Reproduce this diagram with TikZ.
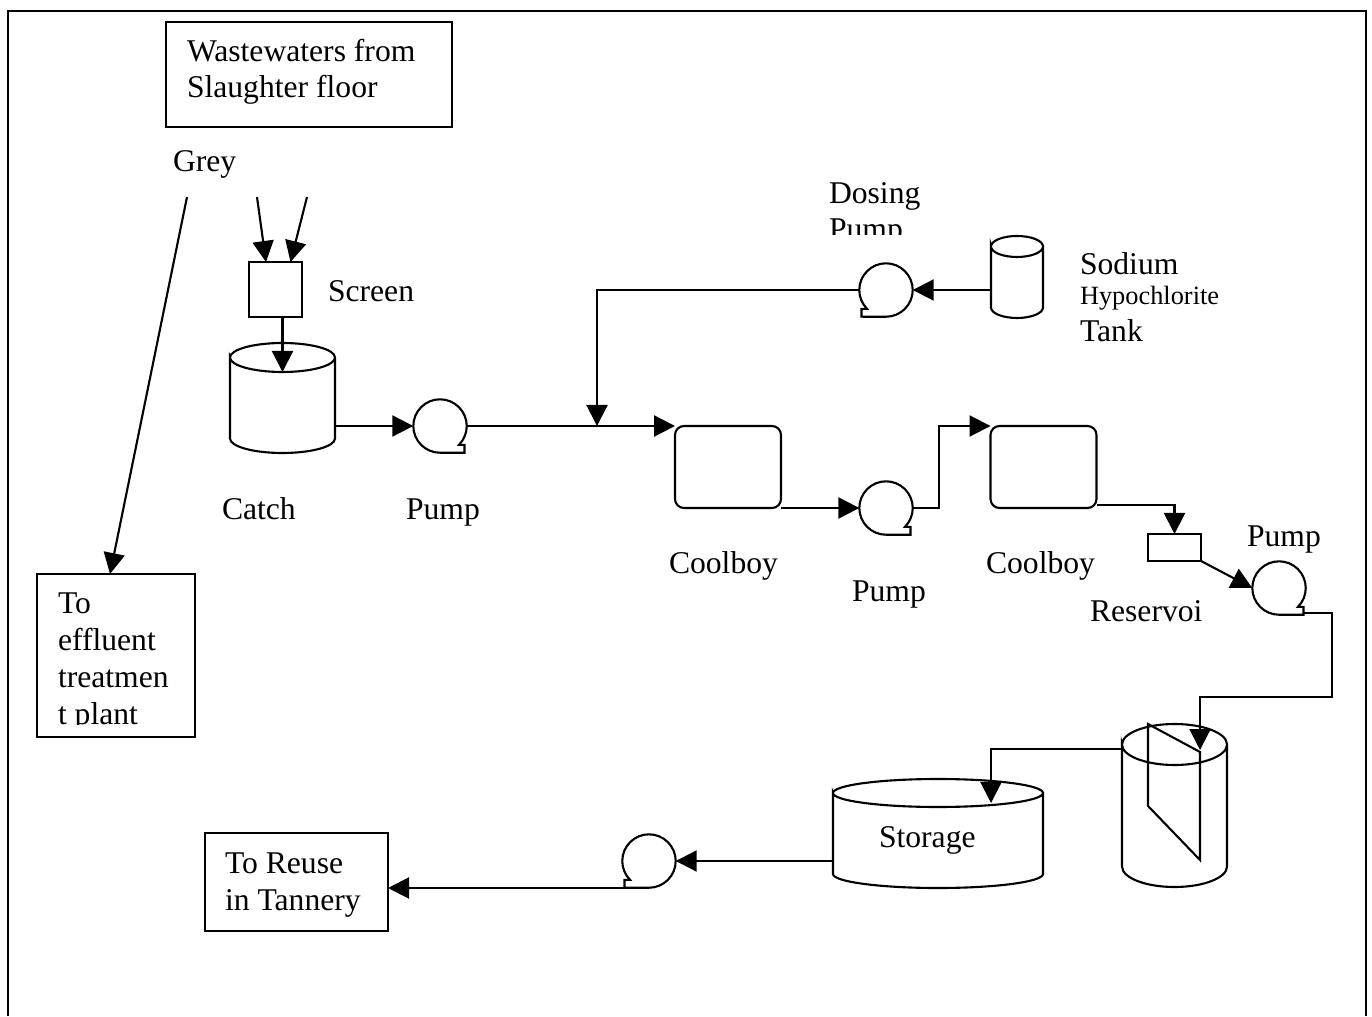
\documentclass[tikz,border=0pt]{standalone}
\usepackage{fontspec}
\setmainfont{Liberation Serif}
\usetikzlibrary{arrows.meta}
\tikzset{
  pipe/.style={line width=0.6pt},
  flow/.style={pipe,-{Triangle[length=2.1mm,width=2.1mm]}},
  box/.style={draw,line width=0.6pt,rectangle,inner sep=0pt,outer sep=0pt},
  cooler/.style={box,rounded corners=0.09cm,minimum width=1.06cm,minimum height=0.82cm},
  lbl/.style={inner sep=0pt,outer sep=0pt,anchor=base west,align=left,
    font=\fontsize{9}{10.52}\selectfont},
  smalllbl/.style={lbl,font=\fontsize{7.5}{9}\selectfont},
  hull/.style={inner sep=0pt,outer sep=0pt,rectangle},
  pumpbody/.style={inner sep=0pt,outer sep=0pt,circle,minimum size=0.534cm}
}
% name, x, y, side of the tail (1 right, -1 left)
\newcommand{\pumpat}[4]{%
  \node[pumpbody] (#1) at (#2,#3) {};
  \draw[pipe,shift={(#2,#3)},xscale=#4] (0.189,-0.189)
    arc[start angle=-45,end angle=270,radius=0.267]
    -- (0.245,-0.267) -- (0.245,-0.189) -- cycle;
}
% name, x, y, width, height, curve of the ends
\newcommand{\tankat}[6]{%
  \node[hull,minimum width=#4 cm,minimum height=#5 cm] (#1) at (#2,#3) {};
  \draw[pipe] ([yshift=-#6 cm]#1.north west)
    arc[start angle=180,end angle=-180,x radius=#4*0.5,y radius=#6]
    -- ([yshift=#6 cm]#1.south west)
    arc[start angle=180,end angle=360,x radius=#4*0.5,y radius=#6]
    -- ([yshift=-#6 cm]#1.north east);
}
\begin{document}
\begin{tikzpicture}
  \useasboundingbox (0,0) rectangle (13.72,10.16);
  % Outer frame, open at the bottom
  \draw[line width=0.75pt] (0.08,0) |- (13.66,10.05) -- (13.66,0);
  % Boxes
  \node[box,minimum width=2.86cm,minimum height=1.05cm] (waste) at (3.09,9.415) {};
  \node[box,minimum width=0.53cm,minimum height=0.55cm] (screen) at (2.755,7.265) {};
  \node[box,minimum width=1.58cm,minimum height=1.63cm] (effluent) at (1.16,3.605) {};
  \node[box,minimum width=1.83cm,minimum height=0.98cm] (reuse) at (2.965,1.34) {};
  \node[box,minimum width=0.53cm,minimum height=0.27cm] (reservoir) at (11.745,4.685) {};
  \node[cooler] (coolA) at (7.28,5.49) {};
  \node[cooler] (coolB) at (10.435,5.49) {};
  % Tanks
  \tankat{catch}{2.825}{6.18}{1.05}{1.10}{0.145}
  \tankat{hypo}{10.17}{7.39}{0.52}{0.82}{0.105}
  \tankat{filter}{11.745}{2.105}{1.05}{1.63}{0.205}
  \tankat{storage}{9.38}{1.825}{2.10}{1.09}{0.14}
  % Baffle inside the filter
  \draw[pipe] (11.48,2.92) -- (12.00,2.64) -- (12.00,1.56) -- (11.48,2.10) -- cycle;
  % Pumps
  \pumpat{catchpump}{4.40}{5.90}{1}
  \pumpat{dosepump}{8.86}{7.26}{-1}
  \pumpat{coolpump}{8.86}{5.08}{1}
  \pumpat{respump}{12.79}{4.28}{1}
  \pumpat{lastpump}{6.49}{1.55}{-1}
  % Free ends of the connectors
  \coordinate (washA) at (2.57,8.19);
  \coordinate (washB) at (3.07,8.19);
  \coordinate (greyout) at (1.87,8.19);
  \coordinate (mix) at (5.97,5.90);
  \coordinate (riser) at (9.39,5.08);
  \coordinate (resout) at (13.04,4.03);
  \coordinate (filterin) at (12.00,2.66);
  \coordinate (filterout) at (11.22,2.67);
  \coordinate (storein) at (9.91,2.13);
  \coordinate (lastout) at (6.24,1.28);
  % Screen and catch tank
  \draw[flow] (washA) -- ([xshift=-0.095cm]screen.north);
  \draw[flow] (washB) -- ([xshift=0.15cm]screen.north);
  \draw[flow] (greyout) -- ([xshift=-0.06cm]effluent.north);
  \draw[flow] (screen.south -| catch.north) -- ([yshift=-0.29cm]catch.north);
  \draw[flow] (catch.east |- catchpump.west) -- (catchpump.west);
  \draw[flow] (catchpump.east) -- (catchpump.east -| coolA.west);
  % Dosing line
  \draw[flow] (hypo.west |- dosepump.east) -- (dosepump.east);
  \draw[flow] (dosepump.west) -| (mix);
  % Coolers and reservoir
  \draw[flow] (coolA.south east) -- (coolpump.west);
  \draw[flow] (coolpump.east) -- (riser) |- (coolB.north west);
  \draw[flow] ([yshift=0.03cm]coolB.south east) -| (reservoir.north);
  \draw[flow] (reservoir.south east) -- (respump.west);
  \draw[flow] (resout) -- (13.32,4.03) -- (13.32,3.19) -- (12.00,3.19) -- (filterin);
  % Filter, storage and reuse
  \draw[flow] (filterout) -| (storein);
  \draw[flow] (storage.west |- lastpump.east) -- (lastpump.east);
  \draw[flow] (lastout) -- (reuse.east |- lastout);
  % Labels
  \node[lbl] (wastetext) at (1.87,9.18) {Wastewaters from\\Slaughter floor};
  \node[lbl] (greytext) at (1.73,8.44) {Grey};
  \node[lbl] (screentext) at (3.28,7.14) {Screen};
  \node[lbl] (sodiumtext) at (10.80,7.41) {Sodium};
  \node[smalllbl] (hypotext) at (10.80,7.11) {Hypochlorite};
  \node[lbl] (tanktext) at (10.80,6.74) {Tank};
  \node[lbl] (catchtext) at (2.22,4.96) {Catch};
  \node[lbl] (pumptextA) at (4.06,4.96) {Pump};
  \node[lbl] (cooltextA) at (6.69,4.43) {Coolboy};
  \node[lbl] (pumptextB) at (8.52,4.14) {Pump};
  \node[lbl] (cooltextB) at (9.86,4.43) {Coolboy};
  \node[lbl] (pumptextC) at (12.47,4.69) {Pump};
  \node[lbl] (restext) at (10.90,3.95) {Reservoi};
  \node[lbl] (storagetext) at (8.79,1.69) {Storage};
  \node[lbl] (reusetext) at (2.25,1.06) {To Reuse\\in Tannery};
  % Cut off by their frames
  \begin{scope}
    \clip (8.2,7.81) rectangle (9.5,8.5);
    \node[lbl] (dosetext) at (8.29,7.76) {Dosing\\Pump};
  \end{scope}
  \begin{scope}
    \clip (0.45,2.92) rectangle (1.9,4.35);
    \node[lbl] (efftext) at (0.58,2.92) {To\\effluent\\treatmen\\t plant};
  \end{scope}
\end{tikzpicture}
\end{document}
